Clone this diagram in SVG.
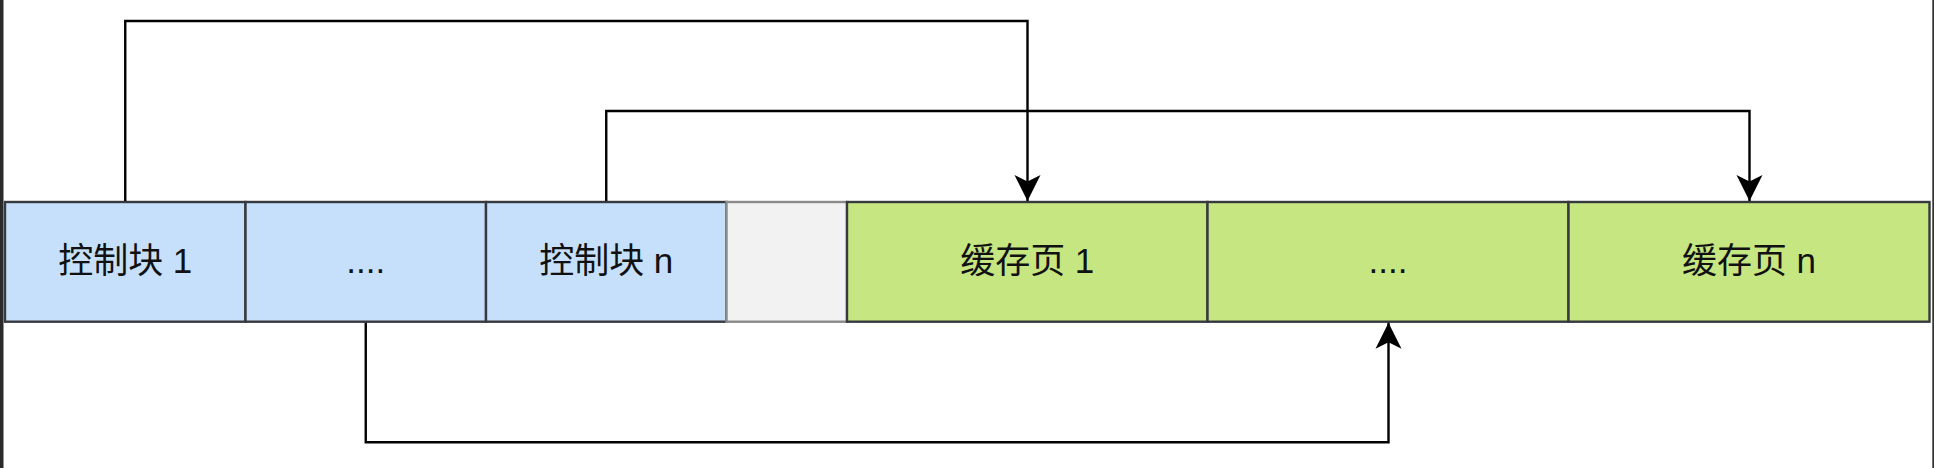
<svg xmlns="http://www.w3.org/2000/svg" width="1934" height="468" viewBox="0 0 1934 468">
  <style>
    .blue { fill: #c6e0fc; stroke: #36393d; stroke-width: 2.4; }
    .green { fill: #c6e681; stroke: #36393d; stroke-width: 2.4; }
    .gray { fill: #f2f2f2; stroke: #8a8a8a; stroke-width: 2.4; }
    .lbl { font-family: "Liberation Sans", "Noto Sans CJK SC", sans-serif; font-size: 35px; fill: #111111; text-anchor: middle; }
    .edge { fill: none; stroke: #000000; stroke-width: 2.4; }
  </style>
  <defs>
    <marker id="arrow" viewBox="-27 -14 28 28" refX="0" refY="0" markerWidth="28" markerHeight="28" markerUnits="userSpaceOnUse" orient="auto">
      <path d="M0,0 L-26,-13 L-19.5,0 L-26,13 Z" fill="#000000"/>
    </marker>
  </defs>
  <rect x="0" y="0" width="1934" height="468" fill="#ffffff"/>
  <rect x="0" y="0" width="3.5" height="468" fill="#2a2a2a"/>
  <rect x="1932.3" y="0" width="1.7" height="468" fill="#333333"/>

  <g id="node-ctrl1">
    <rect class="blue" x="5" y="202" width="240.5" height="119.7"/>
    <text class="lbl" x="125.25" y="273">控制块 1</text>
  </g>
  <g id="node-ctrl-dots">
    <rect class="blue" x="245.5" y="202" width="240.5" height="119.7"/>
    <text class="lbl" x="365.75" y="273">....</text>
  </g>
  <g id="node-ctrln">
    <rect class="blue" x="486" y="202" width="240.5" height="119.7"/>
    <text class="lbl" x="606.25" y="273">控制块 n</text>
  </g>
  <g id="node-gap">
    <rect class="gray" x="726.5" y="202" width="120.5" height="119.7"/>
  </g>
  <g id="node-page1">
    <rect class="green" x="847" y="202" width="360.5" height="119.7"/>
    <text class="lbl" x="1027.25" y="273">缓存页 1</text>
  </g>
  <g id="node-page-dots">
    <rect class="green" x="1207.5" y="202" width="361" height="119.7"/>
    <text class="lbl" x="1388" y="273">....</text>
  </g>
  <g id="node-pagen">
    <rect class="green" x="1568.5" y="202" width="361" height="119.7"/>
    <text class="lbl" x="1749" y="273">缓存页 n</text>
  </g>

  <g id="connectors">
    <path class="edge" d="M125.25,201 V21 H1027.5 V201" marker-end="url(#arrow)"/>
    <path class="edge" d="M606.25,201 V111 H1749.5 V201" marker-end="url(#arrow)"/>
    <path class="edge" d="M365.75,322.7 V442.3 H1388.5 V322.7" marker-end="url(#arrow)"/>
  </g>
</svg>
